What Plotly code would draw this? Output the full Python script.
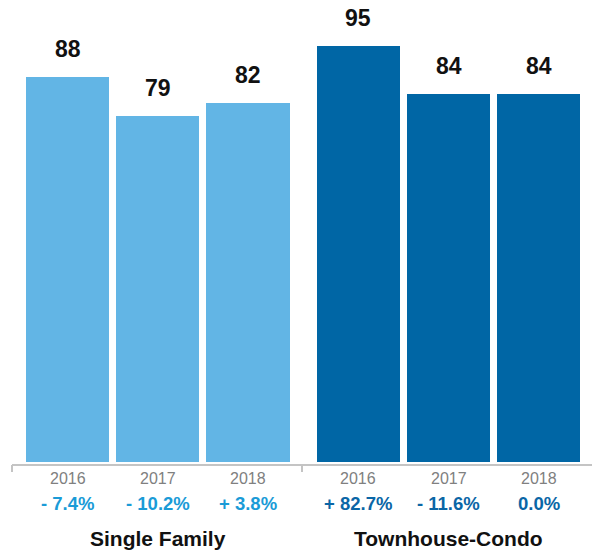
import plotly.graph_objects as go

groups = ["Single Family", "Townhouse-Condo"]
years = ["2016", "2017", "2018"]
sf_values = [88, 79, 82]
tc_values = [95, 84, 84]
sf_changes = ["- 7.4%", "- 10.2%", "+ 3.8%"]
tc_changes = ["+ 82.7%", "- 11.6%", "0.0%"]

light = "#62b5e5"
dark = "#0066a5"
light_txt = "#1a9bd7"
dark_txt = "#0a66a6"
group_gap = 3.224
FONT = "Liberation Sans, Arial"
plot_h = 442

series = [(sf_values, sf_changes, light, light_txt), (tc_values, tc_changes, dark, dark_txt)]

def py(px_below):
    # paper coordinate for a pixel offset below plot bottom
    return -px_below / plot_h

fig = go.Figure()
for g, (vals, chg, col, tcol) in enumerate(series):
    xs = [i + g * group_gap for i in range(len(years))]
    fig.add_trace(go.Bar(
        x=xs, y=vals, width=0.92, marker=dict(color=col, line=dict(width=0)),
        showlegend=False, hoverinfo="skip",
    ))
    for x, v in zip(xs, vals):
        fig.add_annotation(x=x, xref="x", y=v, yref="y", text="<b>%d</b>" % v, showarrow=False,
                           yanchor="middle", yshift=28,
                           font=dict(family=FONT, size=23, color="#111111"))
    for x, yr in zip(xs, years):
        fig.add_annotation(x=x, xref="x", y=py(16), yref="paper", text=yr, showarrow=False,
                           yanchor="middle", font=dict(family=FONT, size=16, color="#808080"))
    for x, c in zip(xs, chg):
        fig.add_annotation(x=x, xref="x", y=py(41), yref="paper", text="<b>%s</b>" % c,
                           showarrow=False, yanchor="middle",
                           font=dict(family=FONT, size=18.5, color=tcol))
    fig.add_annotation(x=xs[1], xref="x", y=py(76), yref="paper", text="<b>%s</b>" % groups[g],
                       showarrow=False, yanchor="middle",
                       font=dict(family=FONT, size=21, color="#111111"))

# axis baseline and group separators
x_left = -0.615
x_mid = 2.598
fig.add_shape(type="line", xref="x", yref="paper", x0=x_left, x1=7.0, y0=py(3), y1=py(3),
              line=dict(color="#c4c4c4", width=2))
for xv in [x_left, x_mid]:
    fig.add_shape(type="line", xref="x", yref="paper", x0=xv, x1=xv, y0=py(3), y1=py(10),
                  line=dict(color="#c4c4c4", width=2))

fig.update_layout(
    width=592, height=553,
    margin=dict(l=0, r=0, t=20, b=91),
    plot_bgcolor="white", paper_bgcolor="white",
    bargap=0,
    xaxis=dict(range=[-0.748, -0.748 + 592 / 90.25], showticklabels=False,
               showgrid=False, zeroline=False, showline=False, ticks=""),
    yaxis=dict(range=[0, plot_h / 4.38], visible=False, showgrid=False, zeroline=False),
    font=dict(family=FONT),
)

fig.write_html("out.html")
